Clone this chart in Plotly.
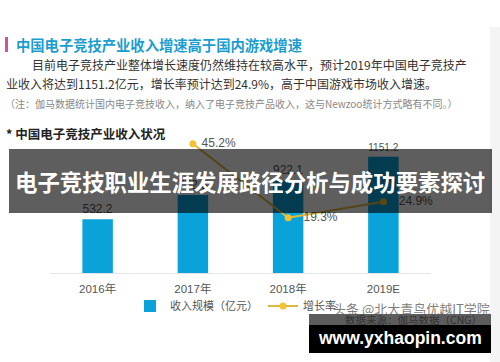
import plotly.graph_objects as go

# ---- data ----
categories = ["2016年", "2017年", "2018年", "2019E"]
revenue = [532.2, 772.8, 922.1, 1151.2]          # 收入规模（亿元）
growth = [None, 45.2, 19.3, 24.9]                 # 增长率 (%)
revenue_name = "收入规模（亿元）"
growth_name = "增长率"

W, H = 500, 362
def px(x): return x / W
def py(y): return 1 - y / H

CJK = "Noto Sans CJK SC"
NUM = "Liberation Sans, Noto Sans CJK SC"

BAR = "#0aa3d9"
LINE = "#e0b93c"

fig = go.Figure()
fig.add_trace(go.Bar(
    x=categories, y=revenue, name=revenue_name,
    marker=dict(color=BAR, line=dict(width=0)),
    width=0.32,
    text=[f"{v:.1f}" for v in revenue], textposition="outside",
    textfont=dict(size=12, color="#555", family=NUM),
    cliponaxis=False,
))
fig.add_trace(go.Scatter(
    x=categories, y=growth, name=growth_name, yaxis="y2",
    mode="lines+markers+text",
    line=dict(color=LINE, width=2),
    marker=dict(color="#f2c233", size=7),
    text=[("   " if g is not None and g < 40 else " ") + f"{g:.1f}%" if g is not None else "" for g in growth],
    textposition="middle right",
    textfont=dict(size=12, color="#555", family=NUM),
    cliponaxis=False,
    connectgaps=False,
))

shapes = [
    dict(type="rect", xref="paper", yref="paper", x0=px(5), x1=px(8), y0=py(52), y1=py(37),
         fillcolor="#c9559a", line=dict(width=0), layer="above"),
    dict(type="rect", xref="paper", yref="paper", x0=px(490), x1=px(500), y0=py(362), y1=py(27),
         fillcolor="#f4f4f4", line=dict(width=0), layer="below"),
    dict(type="rect", xref="paper", yref="paper", x0=px(9), x1=px(492), y0=py(213), y1=py(149),
         fillcolor="rgba(0,0,0,0.63)", line=dict(width=0), layer="above"),
    dict(type="rect", xref="paper", yref="paper", x0=px(309), x1=px(491), y0=py(325), y1=py(314),
         fillcolor="#5c5c5c", line=dict(width=0), layer="above"),
    dict(type="rect", xref="paper", yref="paper", x0=px(309), x1=px(491), y0=py(353), y1=py(325),
         fillcolor="#000000", line=dict(width=0), layer="above"),
]

def ann(text, x, y, size, color, xanchor="left", family=CJK, bold=False):
    return dict(text=f"<b>{text}</b>" if bold else text, x=px(x), y=py(y), xref="paper", yref="paper",
                xanchor=xanchor, yanchor="middle", showarrow=False,
                font=dict(size=size, color=color, family=family))

annotations = [
    ann("中国电子竞技产业收入增速高于国内游戏增速", 14, 44, 14.3, "#1b9dd2", bold=True),
    ann("目前电子竞技产业整体增长速度仍然维持在较高水平，预计2019年中国电子竞技产", 30, 64, 12, "#333"),
    ann("业收入将达到1151.2亿元，增长率预计达到24.9%，高于中国游戏市场收入增速。", 4, 84, 12, "#333"),
    ann("（注：伽马数据统计国内电子竞技收入，纳入了电子竞技产品收入，这与Newzoo统计方式略有不同。）", 3, 104, 10, "#888"),
    ann("* 中国电子竞技产业收入状况", 4, 133, 12.5, "#222", bold=True),
    ann("电子竞技职业生涯发展路径分析与成功要素探讨", 250, 181, 22.4, "#ffffff", xanchor="center", bold=True),
    ann("数据来源：伽马数据（CNG）", 413, 319, 10.5, "#333", xanchor="center"),
    ann("头条 @北大青鸟优越IT学院", 492, 308, 13, "rgba(100,100,100,0.85)", xanchor="right"),
    ann("www.yxhaopin.com", 400, 338, 17.5, "#ffffff", xanchor="center", family="Liberation Sans", bold=True),
]

fig.update_layout(
    width=W, height=H,
    margin=dict(l=0, r=0, t=0, b=0),
    paper_bgcolor="white", plot_bgcolor="white",
    font=dict(family=NUM, color="#555"),
    showlegend=True,
    legend=dict(orientation="h", x=px(130), y=py(306), xanchor="left", yanchor="middle",
                font=dict(size=11, color="#555", family=CJK), bgcolor="rgba(0,0,0,0)",
                itemwidth=30, tracegroupgap=0),
    xaxis=dict(domain=[px(50), px(431)], type="category", range=[-0.5, 3.5],
               showline=True, linecolor="#e2e6ea", linewidth=1, showgrid=False,
               ticks="", tickfont=dict(size=11.5, color="#555", family=NUM),
               ticklabelstandoff=5, fixedrange=True),
    yaxis=dict(domain=[py(273), py(120)], range=[0, 1515], visible=False, showgrid=False),
    yaxis2=dict(domain=[py(273), py(120)], range=[0, 53.5], overlaying="y", visible=False,
                showgrid=False, anchor="x"),
    shapes=shapes,
    annotations=annotations,
)

fig.write_html("out.html", config={"displayModeBar": False},
               post_script="document.body.style.margin='0px';document.body.style.padding='0px';")
